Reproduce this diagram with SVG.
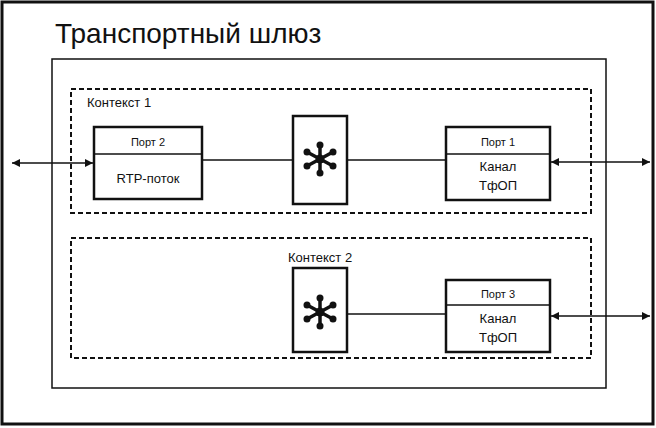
<svg xmlns="http://www.w3.org/2000/svg" width="656" height="428" viewBox="0 0 656 428">
<defs>
<style>
text{font-family:"Liberation Sans",Arial,sans-serif;fill:#111}
.box{fill:#fff;stroke:#111;stroke-width:2.5}
.dash{fill:none;stroke:#111;stroke-width:2;stroke-dasharray:5,3}
.ln{stroke:#111;stroke-width:1.3;fill:none}
.arr{stroke:#111;stroke-width:1.5;fill:none;marker-start:url(#a);marker-end:url(#a)}
.st{stroke:#111;stroke-width:3.5;stroke-linecap:round}
</style>
<marker id="a" viewBox="0 0 10 10" refX="10" refY="5" markerWidth="10" markerHeight="8" orient="auto-start-reverse" markerUnits="userSpaceOnUse"><path d="M0,0L10,5L0,10z" fill="#111"/></marker>
<g id="star"><line class="st" x1="0" y1="-14" x2="0" y2="14"/><line class="st" x1="-13" y1="-7" x2="13" y2="7"/><line class="st" x1="-13" y1="7" x2="13" y2="-7"/><circle r="4.5" fill="#111"/><circle cy="-14" r="3.5" fill="#111"/><circle cy="14" r="3.5" fill="#111"/><circle cx="-13" cy="-7" r="3.5" fill="#111"/><circle cx="13" cy="7" r="3.5" fill="#111"/><circle cx="-13" cy="7" r="3.5" fill="#111"/><circle cx="13" cy="-7" r="3.5" fill="#111"/></g>
</defs>
<rect x="2" y="2" width="651" height="422" fill="#fff" stroke="#111" stroke-width="3"/>
<text x="55" y="43" font-size="28">Транспортный шлюз</text>
<rect id="gateway" x="52" y="59" width="554" height="329" fill="none" stroke="#111" stroke-width="1.5"/>
<g id="context1"><rect class="dash" x="71" y="89" width="520" height="124"/><text x="87" y="107" font-size="13">Контекст 1</text></g>
<g id="context2"><rect class="dash" x="71" y="238" width="520" height="120"/><text x="288" y="262" font-size="13">Контекст 2</text></g>
<g id="connectors">
<line class="ln" x1="203" y1="160" x2="293" y2="160"/>
<line class="ln" x1="347" y1="160" x2="446" y2="160"/>
<line class="ln" x1="347" y1="314" x2="446" y2="314"/>
<line class="arr" x1="12" y1="163" x2="93" y2="163"/>
<line class="arr" x1="551" y1="162" x2="650" y2="162"/>
<line class="arr" x1="551" y1="316" x2="650" y2="316"/>
</g>
<g id="port2"><rect class="box" x="94" y="127" width="108" height="72"/><line class="ln" stroke-width="2.5" x1="94" y1="154" x2="202" y2="154"/><text x="148" y="146" font-size="11" text-anchor="middle">Порт 2</text><text x="148" y="183" font-size="13" text-anchor="middle">RTP-поток</text></g>
<g id="switch1"><rect class="box" x="293" y="116" width="54" height="88"/><use href="#star" x="320" y="159"/></g>
<g id="port1"><rect class="box" x="446" y="127" width="104" height="73"/><line class="ln" stroke-width="2.5" x1="446" y1="154" x2="550" y2="154"/><text x="498" y="146" font-size="11" text-anchor="middle">Порт 1</text><text x="498" y="171" font-size="13" text-anchor="middle">Канал</text><text x="498" y="190" font-size="13" text-anchor="middle">ТфОП</text></g>
<g id="switch2"><rect class="box" x="293" y="268" width="54" height="84"/><use href="#star" x="320" y="312"/></g>
<g id="port3"><rect class="box" x="446" y="280" width="104" height="72"/><line class="ln" stroke-width="2.5" x1="446" y1="305" x2="550" y2="305"/><text x="498" y="298" font-size="11" text-anchor="middle">Порт 3</text><text x="498" y="323" font-size="13" text-anchor="middle">Канал</text><text x="498" y="342" font-size="13" text-anchor="middle">ТфОП</text></g>
</svg>
